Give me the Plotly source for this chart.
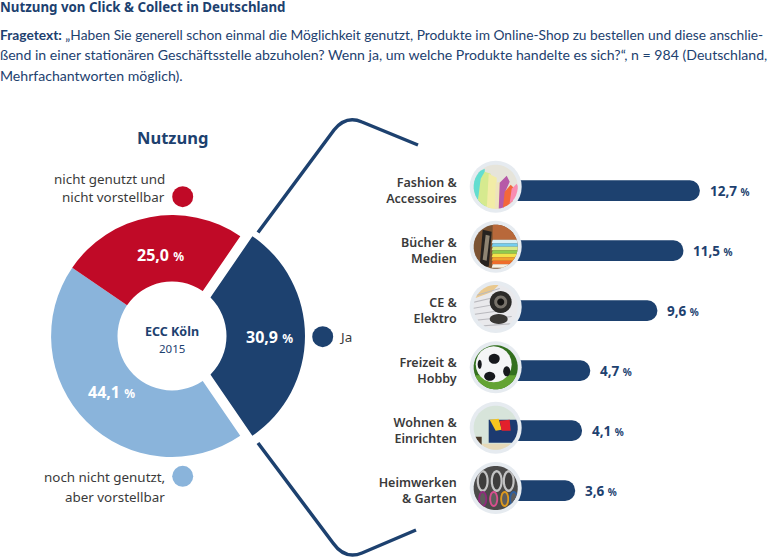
import math
import plotly.graph_objects as go

W, H = 774, 558

NAVY = '#1d416f'
RED = '#c00a27'
LIGHT = '#8ab4db'
DARK_TEXT = '#3a3a3a'
FONT = 'Noto Sans'
BODY_FONT = 'Lato'

# Nutzung (donut)
usage_labels = ['Ja', 'noch nicht genutzt, aber vorstellbar', 'nicht genutzt und nicht vorstellbar']
usage_values = [30.9, 44.1, 25.0]
usage_text = ['30,9', '44,1', '25,0']
usage_colors = [NAVY, LIGHT, RED]
usage_pull = [0.1, 0, 0]

# Produkte (bars)
products = ['Fashion &<br>Accessoires', 'Bücher &<br>Medien', 'CE &<br>Elektro',
            'Freizeit &<br>Hobby', 'Wohnen &<br>Einrichten', 'Heimwerken<br>& Garten']
product_values = [12.7, 11.5, 9.6, 4.7, 4.1, 3.6]
product_text = ['12,7', '11,5', '9,6', '4,7', '4,1', '3,6']
bar_start = -2.2

title_text = 'Nutzung von Click &amp; Collect in Deutschland'
question_lines = [
    '<b>Fragetext:</b> „Haben Sie generell schon einmal die Möglichkeit genutzt, Produkte im Online-Shop zu bestellen und diese anschlie-',
    'ßend in einer stationären Geschäftsstelle abzuholen? Wenn ja, um welche Produkte handelte es sich?“, n = 984 (Deutschland,',
    'Mehrfachantworten möglich).',
]
question_sizes = [13.75, 14.1, 14.1]


def px(x):
    return x / W


def py(y):
    return 1 - y / H


def label(text, x, y, color=DARK_TEXT, size=13.4, anchor='right', weight=None, family=FONT):
    # annotations carry a small padding, take it back
    x += {'right': 2, 'left': -2, 'center': 0}[anchor]
    font = dict(family=family, size=size, color=color)
    if weight:
        font['weight'] = weight
    fig.add_annotation(text=text, x=px(x), y=py(y), xref='paper', yref='paper',
                       xanchor=anchor, yanchor='middle', showarrow=False, font=font)


def circle(x, y, r, color):
    fig.add_shape(type='circle', xref='paper', yref='paper', x0=px(x - r), x1=px(x + r),
                  y0=py(y + r), y1=py(y - r), fillcolor=color, line_width=0)


def path(points, color, width=0, fill=None):
    # points in pixel coordinates, Q for the rounded corner
    d = ''
    for cmd, *xy in points:
        d += cmd + ' '.join(f'{px(xy[i]) if i % 2 == 0 else py(xy[i]):.5f}' for i in range(len(xy))) + ' '
    fig.add_shape(type='path', xref='paper', yref='paper', path=d.strip(),
                  line=dict(color=color, width=width), fillcolor=fill)


def clip_to_circle(points, r=22, n=40):
    # Sutherland-Hodgman against a regular polygon, the photos have no clip path here
    out = points
    for k in range(n):
        a = 2 * math.pi * k / n
        nx, ny = math.cos(a), math.sin(a)
        new = []
        for i, p in enumerate(out):
            q = out[(i + 1) % len(out)]
            dp = p[0] * nx + p[1] * ny - r
            dq = q[0] * nx + q[1] * ny - r
            if dp <= 0:
                new.append(p)
            if dp * dq < 0:
                t = dp / (dp - dq)
                new.append((p[0] + t * (q[0] - p[0]), p[1] + t * (q[1] - p[1])))
        out = new
        if not out:
            break
    return out


def poly(cx, cy, points, color):
    pts = clip_to_circle(points)
    if len(pts) < 3:
        return
    cmds = [('M', cx + pts[0][0], cy + pts[0][1])] + [('L', cx + a, cy + b) for a, b in pts[1:]] + [('Z',)]
    path(cmds, color, 0, color)


def disc(cx, cy, x, y, rx, ry, color):
    poly(cx, cy, [(x + rx * math.cos(t / 12 * math.pi), y + ry * math.sin(t / 12 * math.pi)) for t in range(24)], color)


def photo_fashion(cx, cy):
    poly(cx, cy, [(-23, -23), (23, -23), (23, 23), (-23, 23)], '#e6e4da')
    poly(cx, cy, [(-23, -12), (-11, -18), (-10, 23), (-23, 23)], '#63ddd0')
    poly(cx, cy, [(-19, 23), (-15, -8), (-11, -15), (-5, -13), (-6, 23)], '#d6ea8f')
    poly(cx, cy, [(-9, 23), (-7, -13), (1, -9), (1, 23)], '#f2eca6')
    poly(cx, cy, [(-1, 23), (0, -4), (5, -5), (5, 23)], '#eee4bb')
    poly(cx, cy, [(3, 23), (4, -4), (11, -11), (14, -5), (10, 4), (8, 23)], '#b65aa8')
    poly(cx, cy, [(7, 23), (9, 5), (15, -2), (19, 2), (15, 23)], '#f3683a')
    poly(cx, cy, [(13, 23), (16, 2), (21, -3), (24, 4), (22, 23)], '#f88db2')


def photo_books(cx, cy):
    poly(cx, cy, [(-23, -23), (23, -23), (23, 23), (-23, 23)], '#7c5433')
    poly(cx, cy, [(-3, -23), (23, -23), (23, -7), (-3, -7)], '#b8683a')
    poly(cx, cy, [(-13, -17), (-4, -15), (-7, 20), (-16, 19)], '#26221f')
    poly(cx, cy, [(-10, -12), (-6, -11), (-9, 14), (-13, 13)], '#8f8472')
    for i, c in enumerate(['#d9eef3', '#74cdee', '#d8e98b', '#8fca4f', '#f2e24a', '#f3a22f', '#ee6d2c', '#f7f2e4']):
        poly(cx, cy, [(-3, -7 + 3.5 * i), (23, -7 + 3.5 * i), (23, -3.5 + 3.5 * i), (-4, -3.5 + 3.5 * i)], c)


def photo_keyboard(cx, cy):
    poly(cx, cy, [(-23, -23), (23, -23), (23, 23), (-23, 23)], '#e9e9ec')
    poly(cx, cy, [(-23, -23), (4, -23), (-4, -15), (-23, -8)], '#e9c88e')
    for i in range(6):
        poly(cx, cy, [(-23, -11 + 6 * i), (4 + 3 * i, -19 + 7 * i), (4 + 3 * i, -18 + 7 * i), (-23, -10 + 6 * i)], '#b9b9be')
    disc(cx, cy, 5, -5, 11, 11, '#2b2a28')
    disc(cx, cy, 5, -5, 6.5, 6.5, '#77726a')
    disc(cx, cy, 5, -5, 3.5, 3.5, '#141312')
    disc(cx, cy, 3, 12, 9, 5, '#3a3835')


def photo_ball(cx, cy):
    poly(cx, cy, [(-23, -23), (23, -23), (23, 23), (-23, 23)], '#33701f')
    poly(cx, cy, [(-23, 8), (23, 8), (23, 23), (-23, 23)], '#63a334')
    disc(cx, cy, -2, -3, 18, 18, '#f4f5f6')
    disc(cx, cy, -1.5, -8.5, 5.5, 5, '#16181c')
    disc(cx, cy, -6, 9, 5.5, 4.5, '#16181c')
    disc(cx, cy, 11, 4, 3.5, 5, '#16181c')
    disc(cx, cy, -16, -3, 2, 4.5, '#16181c')


def photo_sofa(cx, cy):
    poly(cx, cy, [(-23, -23), (23, -23), (23, 23), (-23, 23)], '#d7e4da')
    poly(cx, cy, [(-23, 16), (23, 16), (23, 23), (-23, 23)], '#e6d9b8')
    poly(cx, cy, [(-22, 9), (-14, 9), (-14, 18), (-22, 18)], '#4a3a2a')
    poly(cx, cy, [(-7, -8), (23, -8), (23, 15), (-7, 15)], '#1c3a70')
    poly(cx, cy, [(-6, -8), (3, -9), (6, 2), (0, 3)], '#f5c51e')
    poly(cx, cy, [(4, -7), (14, -8), (15, 3), (6, 3)], '#e3202c')


def photo_tools(cx, cy):
    poly(cx, cy, [(-23, -23), (23, -23), (23, 23), (-23, 23)], '#4b4a49')
    for x in [-13, 1, 13]:
        disc(cx, cy, x, -7, 6, 11, '#c4c4c4')
        disc(cx, cy, x, -7, 3.8, 8.5, '#3e3d3c')
    for x, c in [(-13, '#8f2a7c'), (-2, '#d84f8e'), (9, '#dd9a1e'), (18, '#2f5f9e')]:
        disc(cx, cy, x, 11, 4.5, 8, c)
        disc(cx, cy, x, 11, 2.6, 6, '#5e5d5c')


photos = [photo_fashion, photo_books, photo_keyboard, photo_ball, photo_sofa, photo_tools]

fig = go.Figure()

fig.add_trace(go.Pie(
    labels=usage_labels, values=usage_values, textinfo='none',
    marker=dict(colors=usage_colors, line=dict(width=0)),
    hole=0.3, sort=False, direction='clockwise', rotation=34.4, pull=usage_pull,
    domain=dict(x=[px(39), px(305)], y=[py(469), py(203)]),
    showlegend=False,
))

fig.add_trace(go.Bar(
    x=[v - bar_start for v in product_values], y=products, base=bar_start, orientation='h',
    marker=dict(color=NAVY, cornerradius=10, line=dict(width=0)),
    xaxis='x', yaxis='y', showlegend=False,
))

fig.update_layout(
    width=W, height=H, margin=dict(l=0, r=0, t=0, b=0),
    paper_bgcolor='white', plot_bgcolor='white', bargap=0.655,
    xaxis=dict(domain=[px(495.7), px(774)], range=[bar_start, bar_start + (774 - 495.7) / 13.7],
               visible=False),
    yaxis=dict(domain=[py(520.7), py(160.7)], autorange='reversed', anchor='x', side='left',
               showline=False, showgrid=False, ticks='', ticklabelstandoff=38,
               tickfont=dict(family=FONT, size=12.5, color=DARK_TEXT, weight=600)),
)

# Überschrift
label(f'<b>{title_text}</b>', 0, 7, NAVY, 13.3, 'left')
for line, y, size in zip(question_lines, [35, 55, 76], question_sizes):
    label(line, 0, y, NAVY, size, 'left', family=BODY_FONT)

label('Nutzung', 172, 137, NAVY, 16.5, 'center', 700)

# Loch in der Mitte, das Ja-Segment ist nur verschoben
circle(172, 336, 54.5, 'white')
label('ECC Köln', 172, 331, NAVY, 12.5, 'center', 700)
label('2015', 172, 348, NAVY, 11.5, 'center')

# Werte im Donut
for text, x, y in zip(usage_text, [269, 111, 160.7], [337, 392, 255]):
    label(f'<b>{text}</b> <span style="font-size:12px"><b>%</b></span>', x, y, 'white', 16, 'center')

# Legende am Donut
circle(182.7, 196.7, 10.5, RED)
circle(322.7, 336.7, 10.5, NAVY)
circle(182.7, 476.3, 10.5, LIGHT)
label('nicht genutzt und', 165, 179)
label('nicht vorstellbar', 165, 197)
label('Ja', 339, 337, anchor='left')
label('noch nicht genutzt,', 165, 477)
label('aber vorstellbar', 165, 497)

# Klammer
path([('M', 258, 232.5), ('L', 334, 130), ('Q', 346, 115, 362, 122), ('L', 418, 145)], NAVY, 3.5)
path([('M', 258, 443), ('L', 333, 543), ('Q', 345, 560, 362, 553), ('L', 416, 530)], NAVY, 3.5)

# Produktbilder
for y, photo in zip([186.7, 246.7, 307, 367.3, 427.7, 488], photos):
    circle(495.7, y, 26, '#e6ebf0')
    photo(495.7, y)

# Werte
for name, value, text in zip(products, product_values, product_text):
    fig.add_annotation(x=value, y=name, xref='x', yref='y', xanchor='left', yanchor='middle',
                       xshift=8, showarrow=False,
                       text=f'<b>{text}</b> <span style="font-size:10px"><b>%</b></span>',
                       font=dict(family=FONT, size=13.5, color=NAVY))

fig.write_html('out.html', config=dict(displayModeBar=False),
               post_script="document.body.style.margin='0';")
